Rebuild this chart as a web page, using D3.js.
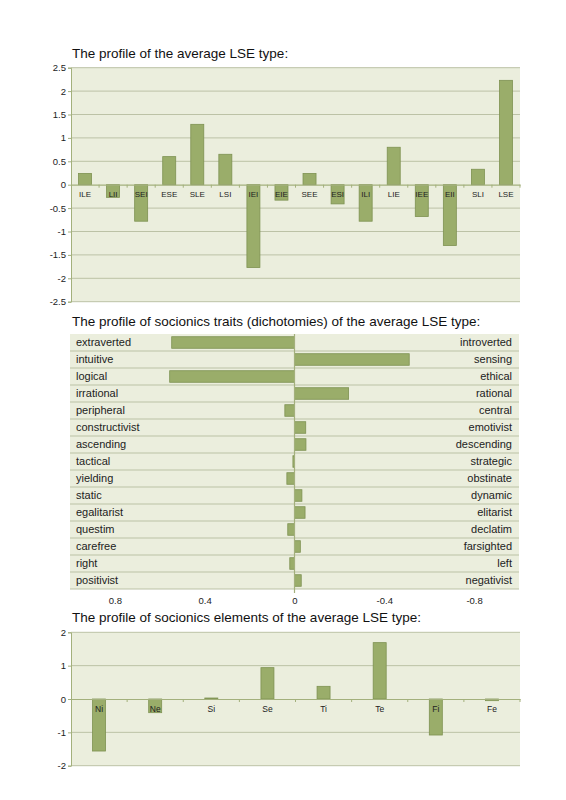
<!DOCTYPE html>
<html>
<head>
<meta charset="utf-8">
<script src="https://cdn.jsdelivr.net/npm/d3@7"></script>
<style>
  body { margin: 0; background: #fff; }
  svg { font-family: "Liberation Sans", Arial, sans-serif; }
</style>
</head>
<body>
<svg id="chart" width="566" height="800"></svg>
<script>
// --- data ---
const types = ["ILE", "LII", "SEI", "ESE", "SLE", "LSI", "IEI", "EIE",
  "SEE", "ESI", "ILI", "LIE", "IEE", "EII", "SLI", "LSE"];
const typeValues = [0.24, -0.27, -0.78, 0.60, 1.29, 0.65, -1.77, -0.33,
  0.24, -0.41, -0.78, 0.80, -0.68, -1.30, 0.33, 2.23];
const typeTicks = [2.5, 2, 1.5, 1, 0.5, 0, -0.5, -1, -1.5, -2, -2.5];

const traitsLeft = ["extraverted", "intuitive", "logical", "irrational", "peripheral",
  "constructivist", "ascending", "tactical", "yielding", "static", "egalitarist",
  "questim", "carefree", "right", "positivist"];
const traitsRight = ["introverted", "sensing", "ethical", "rational", "central",
  "emotivist", "descending", "strategic", "obstinate", "dynamic", "elitarist",
  "declatim", "farsighted", "left", "negativist"];
const traitValues = [0.547, -0.511, 0.556, -0.241, 0.043, -0.050, -0.051, 0.007,
  0.034, -0.033, -0.047, 0.030, -0.026, 0.021, -0.030];
const traitTicks = [0.8, 0.4, 0, -0.4, -0.8];

const elements = ["Ni", "Ne", "Si", "Se", "Ti", "Te", "Fi", "Fe"];
const elementValues = [-1.56, -0.41, 0.03, 0.94, 0.38, 1.69, -1.08, -0.05];
const elementTicks = [2, 1, 0, -1, -2];

// --- style ---
const bg = "#ebeedd";
const gridColor = "#bcc2a6";
const axisColor = "#a3b07c";
const barFill = "#9aad6a";
const barStroke = "#7e9252";
const textColor = "#222";
const plain = d => String(d); // hyphen minus, like the original

const svg = d3.select("#chart");

function title(txt, y) {
  svg.append("text")
    .attr("x", 72).attr("y", y)
    .attr("font-size", 13.5)
    .attr("fill", "#111")
    .text(txt);
}

// vertical column chart (types / elements)
function columnChart(cats, vals, ticks, top, bottom, labelSize) {
  const left = 71, right = 520;
  const x = d3.scaleBand().domain(cats).range([left, right]);
  const y = d3.scaleLinear().domain([d3.min(ticks), d3.max(ticks)]).range([bottom, top]);
  const g = svg.append("g");

  g.append("rect")
    .attr("x", left).attr("y", top)
    .attr("width", right - left).attr("height", bottom - top)
    .attr("fill", bg);

  g.append("g")
    .selectAll("line")
    .data(ticks.filter(t => t !== 0))
    .join("line")
    .attr("x1", left).attr("x2", right)
    .attr("y1", d => y(d)).attr("y2", d => y(d))
    .attr("stroke", gridColor).attr("stroke-width", 1);

  // y axis
  const ya = g.append("g")
    .attr("transform", `translate(${left},0)`)
    .call(d3.axisLeft(y).tickValues(ticks).tickSize(3).tickPadding(2).tickFormat(plain));
  ya.select(".domain").attr("stroke", axisColor);
  ya.selectAll(".tick line").attr("stroke", axisColor);
  ya.selectAll(".tick text").attr("font-size", 9.5).attr("fill", textColor)
    .attr("font-family", "Liberation Sans, Arial, sans-serif");

  // bars
  const bw = 13;
  g.append("g")
    .selectAll("rect")
    .data(cats)
    .join("rect")
    .attr("x", d => x(d) + x.bandwidth() / 2 - bw / 2)
    .attr("width", bw)
    .attr("y", (d, i) => y(Math.max(0, vals[i])))
    .attr("height", (d, i) => Math.abs(y(vals[i]) - y(0)))
    .attr("fill", barFill)
    .attr("stroke", barStroke)
    .attr("stroke-width", 0.8);

  // zero axis with ticks between bands
  const xa = g.append("g")
    .attr("transform", `translate(0,${y(0)})`)
    .call(d3.axisBottom(x).tickSize(0).tickPadding(7));
  xa.select(".domain").attr("stroke", axisColor).attr("stroke-width", 1.2);
  xa.selectAll(".tick text").attr("font-size", labelSize).attr("fill", textColor)
    .attr("font-family", "Liberation Sans, Arial, sans-serif");
  g.append("g")
    .selectAll("line")
    .data(cats.slice(1).concat(["__end"]))
    .join("line")
    .attr("x1", d => d === "__end" ? right : x(d))
    .attr("x2", d => d === "__end" ? right : x(d))
    .attr("y1", y(0)).attr("y2", y(0) + 3)
    .attr("stroke", axisColor);
}

// --- chart 1 ---
title("The profile of the average LSE type:", 58);
columnChart(types, typeValues, typeTicks, 67.7, 301.7, 8);

// --- chart 2 ---
title("The profile of socionics traits (dichotomies) of the average LSE type:", 326);
(function () {
  const left = 70, right = 519, top = 334, bottom = 589;
  const x = d3.scaleLinear().domain([1, -1]).range([left, right]);
  const y = d3.scaleBand().domain(traitsLeft).range([top, bottom]).paddingInner(0.32).paddingOuter(0.16);
  const rows = d3.scaleBand().domain(traitsLeft).range([top, bottom]);
  const g = svg.append("g");

  g.append("rect")
    .attr("x", left).attr("y", top)
    .attr("width", right - left).attr("height", bottom - top)
    .attr("fill", bg);

  g.append("g")
    .selectAll("line")
    .data(traitsLeft.slice(1))
    .join("line")
    .attr("x1", left).attr("x2", right)
    .attr("y1", d => rows(d)).attr("y2", d => rows(d))
    .attr("stroke", gridColor).attr("stroke-width", 1.2);

  g.append("line")
    .attr("x1", left).attr("x2", right)
    .attr("y1", bottom).attr("y2", bottom)
    .attr("stroke", gridColor).attr("stroke-width", 1.2);

  g.append("g")
    .selectAll("rect")
    .data(traitsLeft)
    .join("rect")
    .attr("x", (d, i) => Math.min(x(traitValues[i]), x(0)))
    .attr("width", (d, i) => Math.abs(x(traitValues[i]) - x(0)))
    .attr("y", d => y(d))
    .attr("height", y.bandwidth())
    .attr("fill", barFill)
    .attr("stroke", barStroke)
    .attr("stroke-width", 0.8);

  g.append("line")
    .attr("x1", x(0)).attr("x2", x(0))
    .attr("y1", top).attr("y2", bottom + 4)
    .attr("stroke", axisColor).attr("stroke-width", 1.2);

  g.append("g")
    .selectAll("text")
    .data(traitsLeft)
    .join("text")
    .attr("x", left + 6)
    .attr("y", d => rows(d) + rows.bandwidth() / 2)
    .attr("dy", "0.35em")
    .attr("font-size", 11)
    .attr("fill", textColor)
    .text(d => d);

  g.append("g")
    .selectAll("text")
    .data(traitsRight)
    .join("text")
    .attr("x", right - 7)
    .attr("y", (d, i) => rows(traitsLeft[i]) + rows.bandwidth() / 2)
    .attr("dy", "0.35em")
    .attr("text-anchor", "end")
    .attr("font-size", 11)
    .attr("fill", textColor)
    .text(d => d);

  const xa = g.append("g")
    .attr("transform", `translate(0,${bottom})`)
    .call(d3.axisBottom(x).tickValues(traitTicks).tickSize(0).tickPadding(8).tickFormat(plain));
  xa.select(".domain").remove();
  xa.selectAll(".tick text").attr("font-size", 9.5).attr("fill", textColor)
    .attr("font-family", "Liberation Sans, Arial, sans-serif");
})();

// --- chart 3 ---
title("The profile of socionics elements of the average LSE type:", 622);
columnChart(elements, elementValues, elementTicks, 632.3, 765.7, 8.5);
</script>
</body>
</html>
